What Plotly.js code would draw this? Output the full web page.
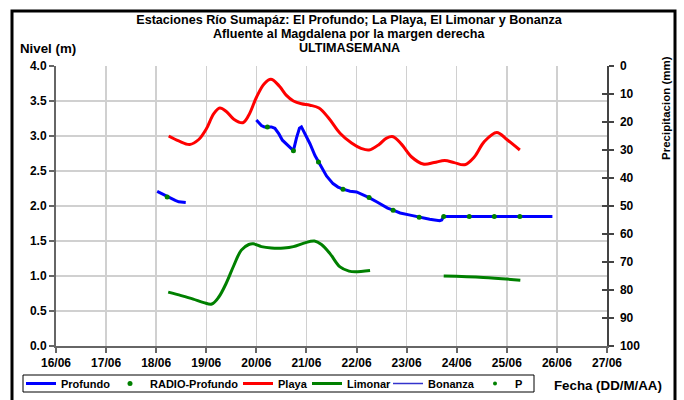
<!DOCTYPE html>
<html>
<head>
<meta charset="utf-8">
<script src="https://cdn.plot.ly/plotly-3.0.1.min.js"></script>
<style>
  html, body { margin: 0; padding: 0; background: #ffffff; }
  #chart { width: 684px; height: 400px; }
</style>
</head>
<body>
<div id="chart"></div>
<script>
// ---- DATA (x = day of June, fractional) ----
const xTickVals = [16, 17, 18, 19, 20, 21, 22, 23, 24, 25, 26, 27];
const xTickText = ["16/06", "17/06", "18/06", "19/06", "20/06", "21/06", "22/06", "23/06", "24/06", "25/06", "26/06", "27/06"];

const profundoX = [18.02, 18.10, 18.17, 18.22, 18.30, 18.38, 18.45, 18.52, 18.59, null,
  20.00, 20.05, 20.10, 20.16, 20.22, 20.30, 20.37, 20.45, 20.52, 20.60, 20.67, 20.74, 20.80, 20.86, 20.90, 20.95,
  21.02, 21.07, 21.17, 21.24, 21.30, 21.40, 21.53, 21.63, 21.73, 21.87, 22.00, 22.13, 22.25, 22.40, 22.53, 22.62,
  22.73, 22.87, 23.07, 23.25, 23.35, 23.46, 23.56, 23.66, 23.70, 23.74, 24.00, 24.50, 25.00, 25.50, 25.91];
const profundoY = [2.21, 2.18, 2.15, 2.13, 2.10, 2.08, 2.06, 2.05, 2.05, null,
  3.23, 3.19, 3.15, 3.13, 3.13, 3.13, 3.11, 3.03, 2.94, 2.88, 2.84, 2.79, 2.97, 3.11, 3.13, 3.06,
  2.95, 2.89, 2.72, 2.63, 2.55, 2.43, 2.32, 2.27, 2.24, 2.21, 2.20, 2.16, 2.12, 2.06, 2.00, 1.97,
  1.94, 1.90, 1.87, 1.84, 1.83, 1.81, 1.80, 1.79, 1.80, 1.85, 1.85, 1.85, 1.85, 1.85, 1.85];

const radioX = [18.22, 20.22, 20.74, 21.24, 21.73, 22.25, 22.73, 23.25, 23.74, 24.25, 24.75, 25.26];
const radioY = [2.13, 3.13, 2.79, 2.63, 2.24, 2.12, 1.94, 1.84, 1.85, 1.85, 1.85, 1.85];

const playaX = [18.25, 18.45, 18.67, 18.85, 19.00, 19.15, 19.27, 19.40, 19.55, 19.73, 19.85, 20.00, 20.15, 20.29,
  20.45, 20.60, 20.74, 20.90, 21.07, 21.25, 21.45, 21.67, 21.90, 22.10, 22.25, 22.45, 22.60, 22.73, 22.90,
  23.10, 23.33, 23.55, 23.76, 23.95, 24.16, 24.35, 24.55, 24.80, 25.00, 25.26];
const playaY = [3.00, 2.93, 2.88, 2.95, 3.10, 3.32, 3.40, 3.35, 3.24, 3.19, 3.30, 3.55, 3.74, 3.81,
  3.72, 3.58, 3.50, 3.46, 3.44, 3.40, 3.25, 3.04, 2.90, 2.82, 2.80, 2.88, 2.97, 2.99, 2.88,
  2.70, 2.60, 2.62, 2.65, 2.62, 2.59, 2.70, 2.92, 3.05, 2.95, 2.80];

const limonarX = [18.24, 18.50, 18.74, 18.95, 19.11, 19.25, 19.40, 19.55, 19.70, 19.85, 19.94, 20.10, 20.30,
  20.55, 20.74, 20.95, 21.16, 21.30, 21.47, 21.67, 21.85, 21.97, 22.27, null, 23.74, 24.53, 25.27];
const limonarY = [0.77, 0.72, 0.67, 0.62, 0.60, 0.70, 0.90, 1.15, 1.37, 1.45, 1.46, 1.42, 1.40,
  1.40, 1.42, 1.47, 1.50, 1.45, 1.32, 1.13, 1.07, 1.06, 1.08, null, 1.00, 0.98, 0.94];

// no visible data in the reference for these two series
const bonanzaX = [null];
const bonanzaY = [null];
const precipX = [null];
const precipY = [null];

const titleLines = ["Estaciones Río Sumapáz: El Profundo; La Playa, El Limonar y Bonanza",
  "Afluente al Magdalena por la margen derecha", "ULTIMASEMANA"];

// ---- LAYOUT HELPERS (pixel -> paper) ----
const L = 56, R = 607, T = 66, B = 346;
const W = R - L, H = B - T;
const px = p => (p - L) / W;
const py = p => (B - p) / H;

const FONT = "Liberation Sans, Arial, sans-serif";
const LEG_Y = 383.5;
const TITLE_SIZE = 12.6;

const traces = [
  { name: "Profundo", x: profundoX, y: profundoY, type: "scatter", mode: "lines", legend: "legend",
    line: { color: "#0000ff", width: 3 }, connectgaps: false },
  { name: "RADIO-Profundo", x: radioX, y: radioY, type: "scatter", mode: "markers", legend: "legend2",
    marker: { color: "#008000", size: 5 } },
  { name: "Playa", x: playaX, y: playaY, type: "scatter", mode: "lines", legend: "legend3",
    line: { color: "#ff0000", width: 3, shape: "spline", smoothing: 1 } },
  { name: "Limonar", x: limonarX, y: limonarY, type: "scatter", mode: "lines", legend: "legend4",
    line: { color: "#008000", width: 3, shape: "spline", smoothing: 1 }, connectgaps: false },
  { name: "Bonanza", x: bonanzaX, y: bonanzaY, type: "scatter", mode: "lines", legend: "legend5",
    line: { color: "#3333cc", width: 1.5 }, showlegend: true },
  { name: "P", x: precipX, y: precipY, type: "scatter", mode: "markers", yaxis: "y2", legend: "legend6",
    marker: { color: "#008000", size: 4 }, showlegend: true }
];
// dummy trace so yaxis3 (inside half of the cross tick marks) is drawn
traces.push({ x: [], y: [], yaxis: "y3", type: "scatter", mode: "markers", showlegend: false, hoverinfo: "skip" });

function legendAt(textStartPx) {
  return {
    orientation: "h", x: px(textStartPx - 40), xanchor: "left", y: py(LEG_Y), yanchor: "middle",
    borderwidth: 0, bgcolor: "rgba(0,0,0,0)",
    font: { family: FONT, size: 11, weight: "bold", color: "#000" },
    itemwidth: 30
  };
}

const tickFont = { family: FONT, size: 12, weight: "bold", color: "#000" };

const layout = {
  width: 684, height: 400,
  margin: { l: L, r: 684 - R, t: T, b: 400 - B, pad: 0, autoexpand: false },
  paper_bgcolor: "#ffffff", plot_bgcolor: "#ffffff",
  font: { family: FONT, size: 12, color: "#000000", weight: "bold" },
  title: {
    text: titleLines[0],
    font: { family: FONT, size: TITLE_SIZE, color: "#000", weight: "bold" },
    x: 349 / 684, xanchor: "center", xref: "container",
    y: 1 - 20 / 400, yanchor: "middle", yref: "container"
  },
  xaxis: {
    range: [16, 27], tickvals: xTickVals, ticktext: xTickText,
    showgrid: true, gridcolor: "#d0d0d0", gridwidth: 1.5,
    showline: true, linecolor: "#666666", linewidth: 2,
    ticks: "outside", ticklen: 5, tickcolor: "#666666", tickwidth: 2,
    tickfont: tickFont, zeroline: false, fixedrange: true
  },
  yaxis: {
    range: [0, 4], dtick: 0.5, tickformat: ".1f",
    showgrid: true, gridcolor: "#d0d0d0", gridwidth: 1.5,
    showline: true, linecolor: "#666666", linewidth: 2,
    ticks: "outside", ticklen: 5, tickcolor: "#666666", tickwidth: 2,
    tickfont: tickFont, zeroline: false, fixedrange: true
  },
  yaxis2: {
    overlaying: "y", side: "right", range: [100, 0], dtick: 10,
    showgrid: false, showline: true, linecolor: "#444444", linewidth: 1.5,
    ticks: "outside", ticklen: 5, tickcolor: "#444444", tickwidth: 1.5,
    ticklabelstandoff: 4, tickfont: tickFont, zeroline: false, fixedrange: true
  },
  yaxis3: {
    overlaying: "y", side: "right", range: [100, 0], dtick: 10,
    showgrid: false, showline: false, showticklabels: false,
    ticks: "inside", ticklen: 5, tickcolor: "#444444", tickwidth: 1.5,
    zeroline: false, fixedrange: true
  },
  showlegend: true,
  legend: legendAt(61),
  legend2: legendAt(150),
  legend3: legendAt(278),
  legend4: legendAt(347),
  legend5: legendAt(428),
  legend6: legendAt(515),
  annotations: [
    { text: titleLines[1], xref: "paper", yref: "paper", x: px(349), y: py(34), xanchor: "center", yanchor: "middle",
      showarrow: false, font: { family: FONT, size: TITLE_SIZE, weight: "bold" } },
    { text: titleLines[2], xref: "paper", yref: "paper", x: px(349), y: py(48), xanchor: "center", yanchor: "middle",
      showarrow: false, font: { family: FONT, size: TITLE_SIZE, weight: "bold" } },
    { text: "Nivel (m)", xref: "paper", yref: "paper", x: px(18), y: py(48), xanchor: "left", yanchor: "middle",
      showarrow: false, font: { family: FONT, size: 13.3, weight: "bold" } },
    { text: "Precipitacion (mm)", xref: "paper", yref: "paper", x: px(666), y: py(108), xanchor: "center", yanchor: "middle",
      textangle: -90, showarrow: false, font: { family: FONT, size: 11.5, weight: "bold" } },
    { text: "Fecha (DD/M/AA)", xref: "paper", yref: "paper", x: px(608), y: py(385), xanchor: "center", yanchor: "middle",
      showarrow: false, font: { family: FONT, size: 13.3, weight: "bold" } }
  ],
  shapes: [
    { type: "rect", xref: "paper", yref: "paper", x0: px(12), x1: px(675), y0: py(11), y1: py(405),
      line: { color: "#000000", width: 3 }, fillcolor: "rgba(0,0,0,0)", layer: "above" },
    { type: "rect", xref: "paper", yref: "paper", x0: px(23), x1: px(534), y0: py(375), y1: py(392),
      line: { color: "#000000", width: 1 }, fillcolor: "rgba(0,0,0,0)", layer: "below" }
  ]
};

Plotly.newPlot("chart", traces, layout, { displayModeBar: false, staticPlot: true });
</script>
</body>
</html>
